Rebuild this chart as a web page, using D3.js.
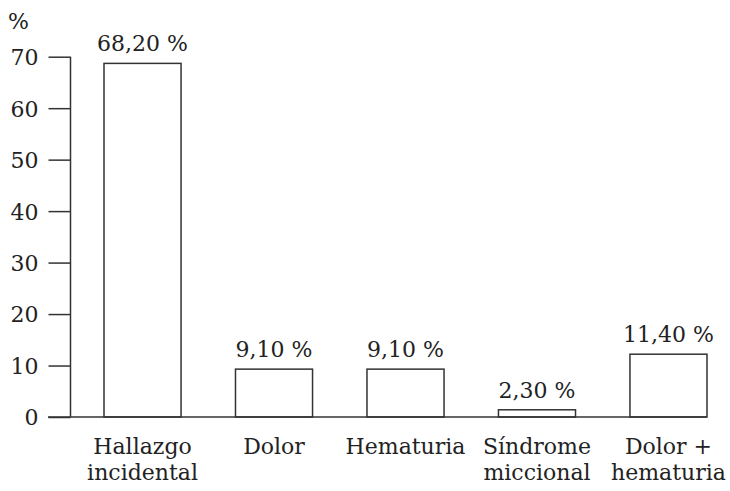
<!DOCTYPE html>
<html>
<head>
<meta charset="utf-8">
<script src="https://cdn.jsdelivr.net/npm/d3@7"></script>
<style>
  body { margin: 0; background: #fff; }
  text { font-family: "DejaVu Serif", serif; fill: #222; }
</style>
</head>
<body>
<div id="chart"></div>
<script>
'use strict'

// categories, each split in two lines
let categories = [
  ["Hallazgo", "incidental"],
  ["Dolor"],
  ["Hematuria"],
  ["Síndrome", "miccional"],
  ["Dolor +", "hematuria"]
]
// bar heights as drawn in the picture
let values = [68.7, 9.3, 9.3, 1.4, 12.2]
// value labels printed above the bars
let valueLabels = ["68,20 %", "9,10 %", "9,10 %", "2,30 %", "11,40 %"]
let yTicks = [0, 10, 20, 30, 40, 50, 60, 70]

let width = 730
let height = 491
let ink = "#333"

let svg = d3.select("#chart").append("svg")
  .attr("width", width)
  .attr("height", height)

let x = d3.scaleBand()
  .domain(d3.range(categories.length))
  .range([104, 707])
  .paddingInner(0.414)
  .paddingOuter(0)

let y = d3.scaleLinear()
  .domain([0, 70])
  .range([417, 56.7])

// y axis
let yAxis = svg.append("g")
  .attr("transform", "translate(70.5,0)")
  .call(d3.axisLeft(y).tickValues(yTicks).tickSize(22).tickPadding(10))
yAxis.select(".domain").remove()
yAxis.selectAll(".tick line").attr("stroke", ink).attr("stroke-width", 1.5)
yAxis.selectAll(".tick text")
  .attr("font-family", "DejaVu Serif")
  .attr("font-size", 22)
  .attr("fill", "#222")
  .attr("dy", "0.36em")
yAxis.append("line")
  .attr("x1", 0).attr("x2", 0)
  .attr("y1", y(0)).attr("y2", y(70))
  .attr("stroke", ink).attr("stroke-width", 1.5)

svg.append("text")
  .attr("x", 8)
  .attr("y", 29)
  .attr("font-size", 22)
  .text("%")

// bars
svg.selectAll(".bar")
  .data(values)
  .enter()
  .append("rect")
  .attr("class", "bar")
  .attr("x", (d, i) => x(i))
  .attr("y", d => y(d))
  .attr("width", x.bandwidth())
  .attr("height", d => y(0) - y(d))
  .attr("fill", "#fff")
  .attr("stroke", ink)
  .attr("stroke-width", 1.5)

// x axis line
svg.append("line")
  .attr("x1", 48).attr("x2", x(categories.length - 1) + x.bandwidth())
  .attr("y1", y(0)).attr("y2", y(0))
  .attr("stroke", ink).attr("stroke-width", 1.5)

// value labels
svg.selectAll(".vlabel")
  .data(valueLabels)
  .enter()
  .append("text")
  .attr("class", "vlabel")
  .attr("x", (d, i) => x(i) + x.bandwidth() / 2)
  .attr("y", (d, i) => y(values[i]) - 12)
  .attr("text-anchor", "middle")
  .attr("font-size", 22)
  .text(d => d)

// category labels
let cat = svg.selectAll(".cat")
  .data(categories)
  .enter()
  .append("text")
  .attr("class", "cat")
  .attr("text-anchor", "middle")
  .attr("font-size", 22)
cat.selectAll("tspan")
  .data((d, i) => d.map(t => ({ t: t, i: i })))
  .enter()
  .append("tspan")
  .attr("x", d => x(d.i) + x.bandwidth() / 2)
  .attr("y", (d, j) => 454 + j * 26)
  .text(d => d.t)
</script>
</body>
</html>
